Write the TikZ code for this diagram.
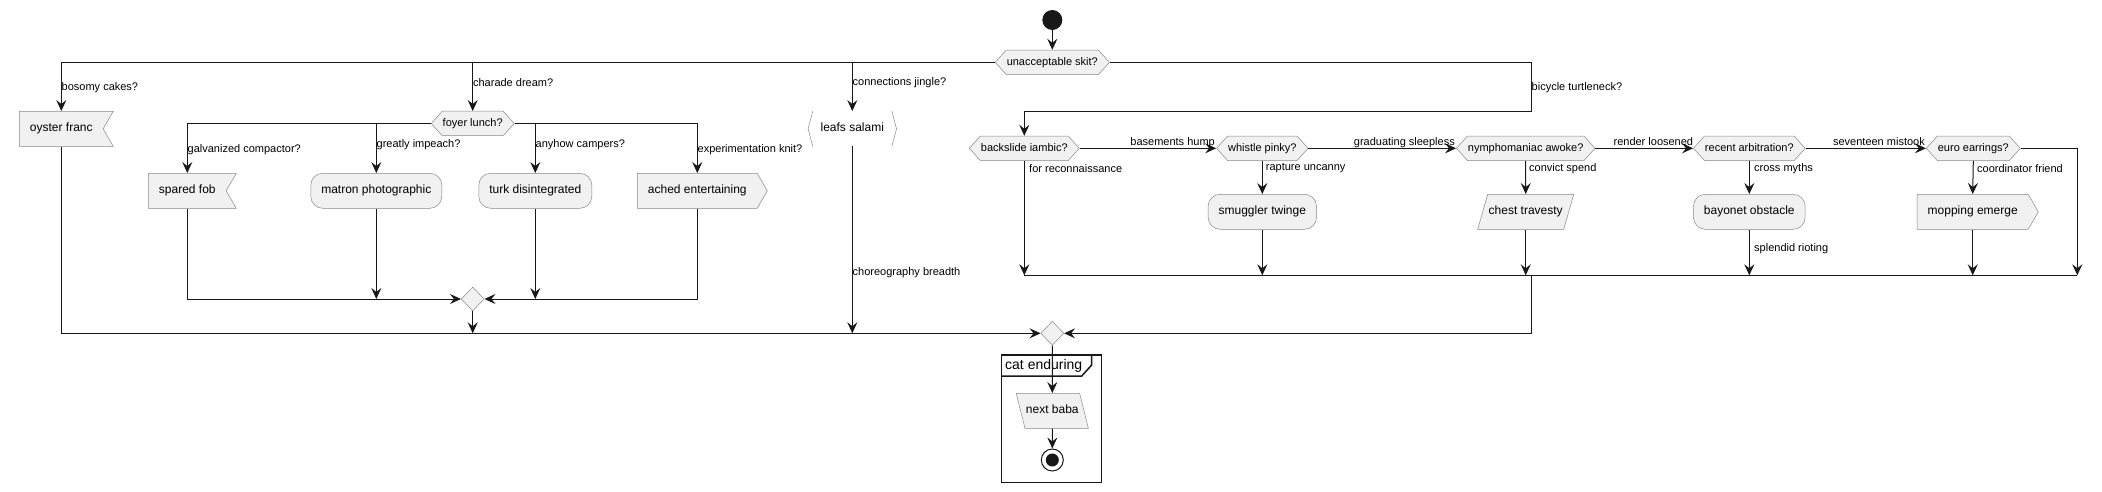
\documentclass[tikz,border=0pt]{standalone}
\usepackage{fontspec}
\setmainfont{Liberation Sans}
\usepackage{tikz}
\usetikzlibrary{arrows.meta,shapes.symbols,shapes.geometric}
\definecolor{actfill}{HTML}{F1F1F1}
\definecolor{actline}{HTML}{888888}
\definecolor{flow}{HTML}{181818}
\begin{document}
\begin{tikzpicture}[x=1pt,y=-1pt,
  box/.style={draw=actline,fill=actfill,line width=0.5pt,font=\fontsize{12}{14}\selectfont,text height=8.5pt,text depth=2.5pt,inner xsep=10.5pt,inner ysep=12pt},
  act/.style={box,rectangle,rounded corners=12pt},
  sendbox/.style={box,signal,signal to=east,signal pointer angle=120},
  recvbox/.style={box,signal,signal to=nowhere,signal from=east,signal pointer angle=120},
  iobox/.style={box,trapezium,inner xsep=1pt},
  ask/.style={box,signal,signal to=west and east,signal pointer angle=96,font=\fontsize{11}{13}\selectfont,text height=8pt,text depth=2.5pt,inner xsep=0.5pt,inner ysep=7pt},
  merge/.style={draw=actline,fill=actfill,line width=0.5pt,diamond,minimum width=23pt,minimum height=24pt,inner sep=0pt},
  lbl/.style={font=\fontsize{11}{13}\selectfont,inner sep=0pt,anchor=west},
  ln/.style={flow,line width=1pt},
  arr/.style={ln,-{Stealth[length=11pt,width=10pt,inset=4pt]}}]
              \useasboundingbox(0,0)rectangle(2102,492);
              \draw[flow,line width=1.5pt](1001.7,355)rectangle(1101.7,482.7);
              \draw[flow,line width=1.5pt](1001.7,376)--(1081.7,376)--(1091.7,365)--(1091.7,355);
              \node[anchor=west,inner sep=0pt,font=\fontsize{14}{16}\selectfont](ce)at(1005,366){cat enduring};
              \node[circle,fill=flow,inner sep=0pt,minimum size=20pt](st)at(1052.3,20){};
              \node[ask](usk)at(1052.3,62.3){unacceptable skit?};
              \node[recvbox](of)at(61.3,128.8){oyster franc};
              \node[ask](fl)at(472.7,123.5){foyer lunch?};
              \node[font=\fontsize{12}{14}\selectfont,text height=8.5pt,text depth=2.5pt,inner ysep=12pt,minimum width=88pt](ls)at(852.3,128.8){leafs salami};
              \draw[actline,line width=0.5pt]([xshift=4.7pt]ls.north west)--(ls.west)--([xshift=4.7pt]ls.south west);
              \draw[actline,line width=0.5pt]([xshift=-4.7pt]ls.north east)--(ls.east)--([xshift=-4.7pt]ls.south east);
              \node[recvbox](sf)at(187.3,190.8){spared fob};
              \node[act](mp)at(376.3,190.8){matron photographic};
              \node[act](td)at(535.3,190.8){turk disintegrated};
              \node[sendbox](ae)at(697.3,190.8){ached entertaining};
              \node[merge](m1)at(472.7,299){};
              \node[merge](m2)at(1052.3,333.3){};
              \node[ask](bs)at(1024.3,148.3){backslide iambic?};
              \node[ask](wp)at(1262.3,148.3){whistle pinky?};
              \node[ask](na)at(1525.7,148.3){nymphomaniac awoke?};
              \node[ask](ra)at(1749.3,148.3){recent arbitration?};
              \node[ask](ee)at(1973.3,148.3){euro earrings?};
              \node[act](sm)at(1262.3,211.8){smuggler twinge};
              \node[iobox,trapezium left angle=74,trapezium right angle=106](ct)at(1525.7,211.8){chest travesty};
              \node[act](bo)at(1749.3,211.8){bayonet obstacle};
              \node[sendbox](me)at(1972.7,211.8){mopping emerge};
              \node[iobox,trapezium left angle=104,trapezium right angle=76](nb)at(1052.3,410.8){next baba};
              \node[circle,draw=flow,fill=white,line width=1pt,minimum size=22pt,inner sep=0pt](en)at(1052.3,460){};
              \node[circle,fill=flow,minimum size=13pt,inner sep=0pt](en2)at(en){};
              \coordinate(lp)at(1531.7,111.3);
              \coordinate(bar)at(2077.3,275.3);
              \coordinate(bx)at(1531.7,275.3);
              \draw[arr](st)--(usk.north);
              \draw[arr](usk.west)-|(of.north);
              \draw[arr](usk.west)-|(fl.north);
              \draw[arr](usk.west)-|(ls.north);
              \draw[arr](usk.east)-|(lp)-|(bs.north);
              \draw[arr](fl.west)-|(sf.north);
              \draw[arr](fl.west)-|(mp.north);
              \draw[arr](fl.east)-|(td.north);
              \draw[arr](fl.east)-|(ae.north);
              \draw[arr](sf.south)|-(m1.west);
              \draw[arr](ae.south)|-(m1.east);
              \draw[arr](mp.south)--(mp.south|-m1);
              \draw[arr](td.south)--(td.south|-m1);
              \draw[arr](m1.south)--(m1.south|-m2);
              \draw[arr](of.south)|-(m2.west);
              \draw[arr](ls.south)--(ls.south|-m2);
              \draw[arr](bs.east)--(wp.west);
              \draw[arr](wp.east)--(na.west);
              \draw[arr](na.east)--(ra.west);
              \draw[arr](ra.east)--(ee.west);
              \draw[arr](wp.south)--(sm.north);
              \draw[arr](na.south)--(ct.north);
              \draw[arr](ra.south)--(bo.north);
              \draw[arr](ee.south)--(me.north);
              \draw[ln](bs|-bar)--(bar);
              \draw[arr](bs.south)--(bs.south|-bar);
              \draw[arr](sm.south)--(sm.south|-bar);
              \draw[arr](ct.south)--(ct.south|-bar);
              \draw[arr](bo.south)--(bo.south|-bar);
              \draw[arr](me.south)--(me.south|-bar);
              \draw[arr](ee.east)-|(bar);
              \draw[arr](bx)|-(m2.east);
              \draw[arr](m2.south)--(nb.north);
              \draw[arr](nb.south)--(en.north);
              \node[lbl](l1)at(61.5,87.5){bosomy cakes?};
              \node[lbl](l2)at(472.9,82.2){charade dream?};
              \node[lbl](l3)at(852.5,82.5){connections jingle?};
              \node[lbl](l4)at(1531.5,87.3){bicycle turtleneck?};
              \node[lbl](l5)at(187.5,149.3){galvanized compactor?};
              \node[lbl](l6)at(376.5,144.7){greatly impeach?};
              \node[lbl](l7)at(535.5,144.7){anyhow campers?};
              \node[lbl](l8)at(697.5,149.3){experimentation knit?};
              \node[lbl](l9)at(852.5,272.5){choreography breadth};
              \node[lbl](l10)at(1029,168.2){for reconnaissance};
              \node[lbl](l11)at(1265.7,168.3){rapture uncanny};
              \node[lbl](l12)at(1529,168.3){convict spend};
              \node[lbl](l13)at(1754,168.3){cross myths};
              \node[lbl](l14)at(1977,168.3){coordinator friend};
              \node[lbl](l15)at(1754,248.3){splendid rioting};
              \node[lbl,anchor=base east](l16)at(1215,146){basements hump};
              \node[lbl,anchor=base east](l17)at(1455,146){graduating sleepless};
              \node[lbl,anchor=base east](l18)at(1693.3,146){render loosened};
              \node[lbl,anchor=base east](l19)at(1925,146){seventeen mistook};
            \end{tikzpicture}
\end{document}
